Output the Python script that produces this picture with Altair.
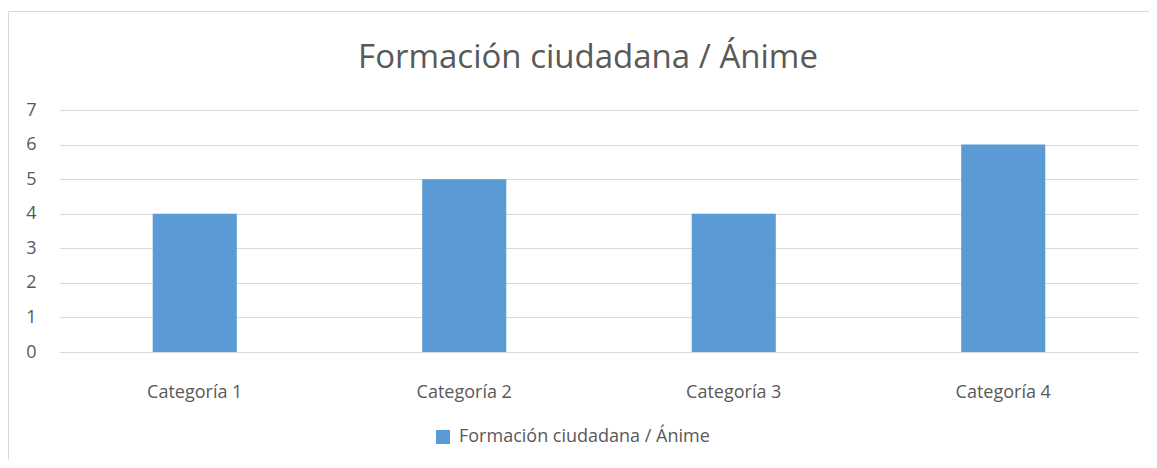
import altair as alt
import pandas as pd

categories = ["Categoría 1", "Categoría 2", "Categoría 3", "Categoría 4"]
values = [4, 5, 4, 6]
series_name = "Formación ciudadana / Ánime"
y_ticks = [0, 1, 2, 3, 4, 5, 6, 7]

df = pd.DataFrame({"categoria": categories, "valor": values, "serie": [series_name] * len(categories)})

FONT = "Open Sans"
TXT = "#595959"
GRID = "#D9D9D9"
BAR = "#5B9BD5"

W, H = 1078, 242
PAD_L, PAD_T = 52, 102

bars = alt.Chart(df).mark_bar(color=BAR).encode(
    x=alt.X("categoria:N", sort=categories, title=None,
            scale=alt.Scale(paddingInner=0.688, paddingOuter=0.344),
            axis=alt.Axis(labelAngle=0, labelFont=FONT, labelFontSize=18, labelColor=TXT,
                          ticks=False, domain=True, domainColor=GRID, domainWidth=1,
                          labelPadding=31, grid=False, labelLimit=300)),
    y=alt.Y("valor:Q", title=None,
            scale=alt.Scale(domain=[0, 7], nice=False),
            axis=alt.Axis(values=y_ticks, labelFont=FONT, labelFontSize=18, labelColor=TXT,
                          ticks=False, domain=False, grid=True, gridColor=GRID, gridWidth=1,
                          labelPadding=24)),
    fill=alt.Fill("serie:N", scale=alt.Scale(range=[BAR]),
                  legend=alt.Legend(title=None, orient="none", legendX=374, legendY=318,
                                    symbolType="square", symbolSize=196, symbolStrokeWidth=0,
                                    labelFont=FONT, labelFontSize=18, labelColor=TXT,
                                    labelLimit=600, padding=0, labelOffset=7)),
)

frame = alt.Chart(pd.DataFrame({"a": [0]})).mark_rect(fill=None, stroke=GRID, strokeWidth=1).encode(
    x=alt.value(-PAD_L + 0.5), x2=alt.value(W + 200),
    y=alt.value(-PAD_T + 3.5), y2=alt.value(H + 300),
)

chart = alt.layer(frame, bars).properties(
    width=W, height=H,
    title=alt.TitleParams(series_name, font=FONT, fontSize=33, fontWeight="normal", color=TXT,
                          anchor="middle", dx=-11, offset=-90, baseline="alphabetic"),
    autosize=alt.AutoSizeParams(type="none"),
    padding={"left": PAD_L, "top": PAD_T, "right": 1157 - 16 - PAD_L - W, "bottom": 468 - 16 - PAD_T - H},
).configure(background="white", view=alt.ViewConfig(stroke="transparent", strokeWidth=0))

chart.save("out.html", embed_options={"renderer": "svg", "actions": False})
